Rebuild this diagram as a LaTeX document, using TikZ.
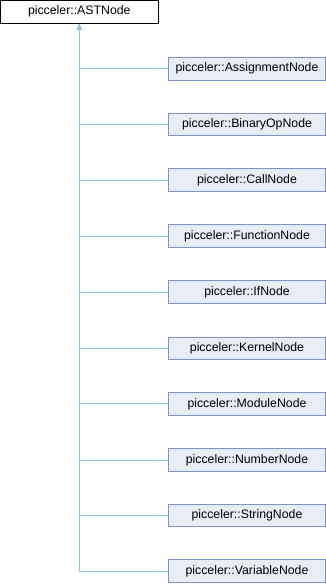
\documentclass[tikz,border=0pt]{standalone}
\usepackage{fontspec}
\setmainfont{Liberation Sans}
\usepackage{xcolor}
\usetikzlibrary{arrows.meta}

\definecolor{boxfill}{HTML}{E8ECF6}
\definecolor{boxline}{HTML}{7B93C9}
\definecolor{edgeblue}{HTML}{8CC6E6}

\tikzset{
  base/.style={draw=black, fill=white, line width=1pt, minimum width=158pt, minimum height=23pt, inner sep=0pt, font=\fontsize{12.3}{14}\selectfont},
  derived/.style={draw=boxline, fill=boxfill, line width=1pt, minimum width=157pt, minimum height=22.5pt, inner sep=0pt, font=\fontsize{12.3}{14}\selectfont},
  inherit/.style={draw=edgeblue, line width=1pt, -{Latex[length=6pt,width=5pt]}}
}

\begin{document}
\begin{tikzpicture}[x=1pt,y=-1pt]
        \useasboundingbox (0,0) rectangle (326,584);
        \node[base] (ast) at (79.3,11.5) {picceler::ASTNode};
        \node[derived] (assign) at (247,68.8) {picceler::AssignmentNode};
        \node[derived] (binop) at (247,124.5) {picceler::BinaryOpNode};
        \node[derived] (call) at (247,180.2) {picceler::CallNode};
        \node[derived] (func) at (247,236.0) {picceler::FunctionNode};
        \node[derived] (ifn) at (247,292.0) {picceler::IfNode};
        \node[derived] (kernel) at (247,348.3) {picceler::KernelNode};
        \node[derived] (module) at (247,403.9) {picceler::ModuleNode};
        \node[derived] (number) at (247,460.0) {picceler::NumberNode};
        \node[derived] (string) at (247,515.3) {picceler::StringNode};
        \node[derived] (var) at (247,571.2) {picceler::VariableNode};
        % inheritance edges, all ending at the base class
        \draw[inherit] (assign.west) -| (ast.south);
        \draw[inherit] (binop.west) -| (ast.south);
        \draw[inherit] (call.west) -| (ast.south);
        \draw[inherit] (func.west) -| (ast.south);
        \draw[inherit] (ifn.west) -| (ast.south);
        \draw[inherit] (kernel.west) -| (ast.south);
        \draw[inherit] (module.west) -| (ast.south);
        \draw[inherit] (number.west) -| (ast.south);
        \draw[inherit] (string.west) -| (ast.south);
        \draw[inherit] (var.west) -| (ast.south);
\end{tikzpicture}
\end{document}
